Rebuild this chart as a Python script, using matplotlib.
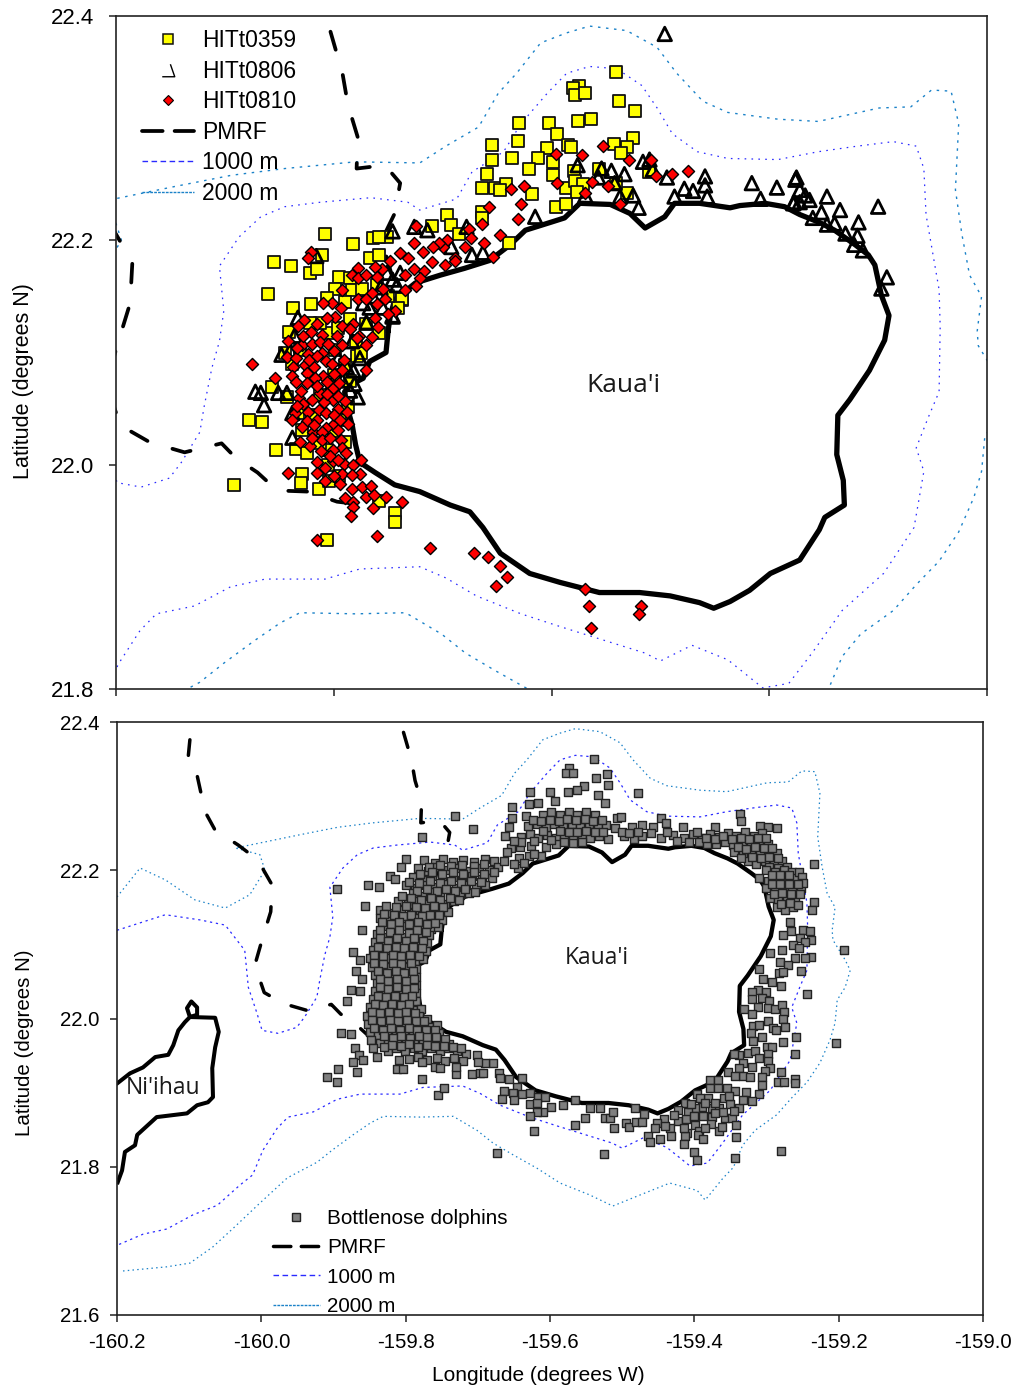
import numpy as np
import matplotlib
matplotlib.use("Agg")
import matplotlib.pyplot as plt
from matplotlib.lines import Line2D
from matplotlib.path import Path
from matplotlib.ticker import FormatStrFormatter

plt.rcParams["font.family"] = ["Liberation Sans", "DejaVu Sans"]
plt.rcParams["axes.unicode_minus"] = False

# --- coastlines (lon, lat) ---
kauai = [(-159.750,22.120),(-159.752,22.100),(-159.767,22.092),(-159.773,22.077),(-159.785,22.071),(-159.790,22.065),
 (-159.787,22.049),(-159.783,22.035),(-159.780,22.018),(-159.776,22.002),(-159.762,21.993),(-159.744,21.982),
 (-159.721,21.976),(-159.693,21.964),(-159.675,21.958),(-159.663,21.944),(-159.647,21.921),(-159.620,21.903),
 (-159.592,21.895),(-159.556,21.886),(-159.519,21.886),(-159.491,21.883),(-159.464,21.877),(-159.451,21.872),
 (-159.436,21.878),(-159.418,21.888),(-159.399,21.903),(-159.372,21.915),(-159.354,21.942),(-159.349,21.953),
 (-159.331,21.964),(-159.332,21.986),(-159.338,22.009),(-159.337,22.044),(-159.326,22.058),(-159.308,22.084),
 (-159.294,22.111),(-159.290,22.133),(-159.297,22.151),(-159.303,22.178),(-159.309,22.187),(-159.321,22.196),
 (-159.340,22.209),(-159.354,22.216),(-159.372,22.223),(-159.386,22.230),(-159.404,22.233),(-159.427,22.231),
 (-159.436,22.229),(-159.464,22.233),(-159.487,22.233),(-159.496,22.221),(-159.514,22.211),(-159.528,22.224),
 (-159.546,22.232),(-159.574,22.233),(-159.588,22.220),(-159.601,22.216),(-159.624,22.209),(-159.638,22.196),
 (-159.657,22.182),(-159.680,22.175),(-159.702,22.169),(-159.725,22.162),(-159.744,22.147),(-159.748,22.133),
 (-159.750,22.120)]
niihau = [(-160.199,21.913),(-160.182,21.926),(-160.164,21.934),(-160.147,21.948),(-160.129,21.951),(-160.122,21.964),
 (-160.115,21.984),(-160.106,21.995),(-160.099,22.002),(-160.103,22.014),(-160.097,22.023),(-160.089,22.015),
 (-160.089,22.005),(-160.099,22.002),(-160.064,22.001),(-160.059,21.982),(-160.064,21.961),(-160.068,21.933),
 (-160.067,21.894),(-160.074,21.887),(-160.089,21.883),(-160.103,21.872),(-160.145,21.867),(-160.172,21.843),
 (-160.175,21.829),(-160.189,21.820),(-160.193,21.795),(-160.199,21.779)]

# --- PMRF boundary ---
pmrf_west = [(-160.099,22.376),(-160.102,22.346),(-160.089,22.328),(-160.078,22.279),(-160.064,22.254),(-160.032,22.234),
 (-160.005,22.214),(-159.985,22.180),(-159.987,22.144),(-159.999,22.106),(-160.009,22.072),(-159.996,22.035),
 (-159.969,22.020),(-159.937,22.011),(-159.903,22.019),(-159.890,22.006),(-159.870,21.993),(-159.852,21.977),
 (-159.824,21.976),(-159.797,21.967),(-159.771,21.964)]
pmrf_north = [(-159.803,22.386),(-159.792,22.349),(-159.787,22.321),(-159.778,22.292),(-159.779,22.264),(-159.753,22.267),
 (-159.739,22.251),(-159.744,22.224),(-159.756,22.200),(-159.747,22.170)]

# --- depth contours ---
depth_1000 = [(-160.200,22.119),(-160.133,22.140),(-160.085,22.133),(-160.050,22.126),(-160.023,22.092),(-160.018,22.042),
 (-160.006,22.007),(-159.999,21.984),(-159.977,21.980),(-159.951,21.988),(-159.940,22.002),(-159.923,22.029),
 (-159.919,22.052),(-159.912,22.086),(-159.905,22.110),(-159.901,22.137),(-159.905,22.177),(-159.887,22.203),
 (-159.867,22.221),(-159.845,22.230),(-159.812,22.234),(-159.766,22.238),(-159.732,22.234),(-159.721,22.227),
 (-159.687,22.237),(-159.673,22.261),(-159.644,22.279),(-159.628,22.304),(-159.604,22.331),(-159.586,22.349),
 (-159.565,22.355),(-159.540,22.353),(-159.517,22.338),(-159.503,22.318),(-159.489,22.295),(-159.466,22.279),
 (-159.438,22.273),(-159.392,22.272),(-159.355,22.279),(-159.319,22.284),(-159.286,22.288),(-159.265,22.284),
 (-159.258,22.264),(-159.256,22.223),(-159.244,22.156),(-159.243,22.123),(-159.244,22.065),(-159.254,22.042),
 (-159.265,22.015),(-159.258,21.994),(-159.267,21.944),(-159.295,21.903),(-159.333,21.870),(-159.360,21.833),
 (-159.382,21.805),(-159.406,21.801),(-159.438,21.826),(-159.471,21.839),(-159.500,21.825),(-159.514,21.832),
 (-159.590,21.855),(-159.628,21.867),(-159.669,21.883),(-159.697,21.899),(-159.721,21.909),(-159.776,21.907),
 (-159.808,21.898),(-159.863,21.898),(-159.895,21.891),(-159.928,21.874),(-159.963,21.867),(-159.978,21.852),
 (-159.998,21.822),(-160.012,21.789),(-160.030,21.775),(-160.061,21.748),(-160.095,21.735),(-160.131,21.716),
 (-160.164,21.709),(-160.200,21.694)]
depth_2000 = [(-160.200,22.164),(-160.168,22.203),(-160.133,22.187),(-160.092,22.160),(-160.050,22.149),(-160.016,22.167),
 (-159.995,22.200),(-160.002,22.221),(-160.036,22.230),(-159.946,22.248),(-159.894,22.258),(-159.845,22.264),
 (-159.780,22.270),(-159.721,22.269),(-159.697,22.284),(-159.667,22.301),(-159.649,22.331),(-159.632,22.349),
 (-159.610,22.376),(-159.586,22.385),(-159.565,22.391),(-159.531,22.387),(-159.503,22.372),(-159.485,22.349),
 (-159.461,22.324),(-159.438,22.314),(-159.392,22.308),(-159.355,22.306),(-159.299,22.318),(-159.270,22.319),
 (-159.251,22.334),(-159.233,22.333),(-159.226,22.304),(-159.229,22.245),(-159.223,22.205),(-159.216,22.169),
 (-159.205,22.150),(-159.209,22.119),(-159.208,22.106),(-159.191,22.079),(-159.184,22.065),(-159.191,22.042),
 (-159.202,22.025),(-159.205,21.994),(-159.212,21.971),(-159.226,21.940),(-159.244,21.914),(-159.265,21.893),
 (-159.286,21.870),(-159.316,21.849),(-159.333,21.829),(-159.346,21.799),(-159.360,21.785),(-159.385,21.755),
 (-159.396,21.768),(-159.434,21.778),(-159.475,21.762),(-159.513,21.747),(-159.545,21.762),(-159.586,21.778),
 (-159.618,21.798),(-159.651,21.816),(-159.679,21.832),(-159.701,21.849),(-159.734,21.868),(-159.780,21.867),
 (-159.831,21.868),(-159.849,21.859),(-159.873,21.843),(-159.901,21.823),(-159.923,21.806),(-159.964,21.785),
 (-160.002,21.751),(-160.039,21.717),(-160.067,21.692),(-160.099,21.670),(-160.131,21.665),(-160.196,21.659)]

# --- false killer whale tags (top panel) ---
hitt0359 = [(-159.541,22.350),(-159.538,22.324),(-159.523,22.315),(-159.576,22.306),(-159.564,22.308),(-159.575,22.338),
 (-159.580,22.336),(-159.578,22.330),(-159.569,22.331),(-159.630,22.305),(-159.602,22.305),(-159.595,22.295),
 (-159.525,22.291),(-159.655,22.285),(-159.631,22.289),(-159.604,22.282),(-159.585,22.285),(-159.582,22.283),
 (-159.543,22.286),(-159.531,22.283),(-159.655,22.272),(-159.636,22.273),(-159.612,22.273),(-159.599,22.270),
 (-159.621,22.264),(-159.659,22.259),(-159.599,22.258),(-159.579,22.262),(-159.664,22.247),(-159.652,22.247),
 (-159.642,22.250),(-159.647,22.245),(-159.618,22.241),(-159.587,22.247),(-159.578,22.253),(-159.571,22.250),
 (-159.577,22.243),(-159.596,22.230),(-159.587,22.232),(-159.664,22.225),(-159.696,22.223),(-159.692,22.214),
 (-159.685,22.206),(-159.639,22.198),(-159.536,22.278),(-159.510,22.261),(-159.531,22.242),(-159.541,22.251),
 (-159.556,22.264),(-159.664,22.220),(-159.808,22.206),(-159.782,22.197),(-159.764,22.202),(-159.751,22.203),
 (-159.758,22.203),(-159.710,22.213),(-159.811,22.187),(-159.855,22.181),(-159.839,22.177),(-159.822,22.171),
 (-159.815,22.174),(-159.860,22.152),(-159.837,22.140),(-159.821,22.143),(-159.767,22.184),(-159.758,22.187),
 (-159.795,22.167),(-159.785,22.166),(-159.783,22.156),(-159.799,22.157),(-159.774,22.157),(-159.841,22.118),
 (-159.790,22.145),(-159.737,22.147),(-159.758,22.117),(-159.806,22.149),(-159.878,22.040),(-159.866,22.038),
 (-159.857,22.069),(-159.853,22.013),(-159.892,21.982),(-159.829,21.992),(-159.830,21.984),(-159.814,21.978),
 (-159.804,21.985),(-159.835,22.014),(-159.825,22.010),(-159.806,21.933),(-159.744,21.957),(-159.744,21.949),
 (-159.779,22.097),(-159.775,22.100),(-159.737,22.148),(-159.741,22.140),(-159.787,22.051),(-159.806,22.013),
 (-159.758,21.968),(-159.829,22.031),(-159.833,22.046),(-159.843,22.060),(-159.813,22.019),(-159.804,22.117),
 (-159.796,22.122),(-159.813,22.126),(-159.822,22.126),(-159.831,22.102),(-159.822,22.084),(-159.813,22.062),
 (-159.794,22.040),(-159.790,22.089),(-159.799,22.102),(-159.845,22.100),(-159.838,22.090),(-159.800,22.080),
 (-159.785,22.075),(-159.820,22.044),(-159.800,22.030),(-159.790,22.020),(-159.805,22.000),(-159.795,21.990),
 (-159.780,22.110),(-159.770,22.125),(-159.750,22.150),(-159.760,22.160),(-159.785,22.130)]
hitt0806 = [(-159.416,22.251),(-159.393,22.247),(-159.408,22.237),(-159.375,22.256),(-159.376,22.254),(-159.372,22.245),
 (-159.367,22.240),(-159.363,22.236),(-159.377,22.234),(-159.372,22.234),(-159.347,22.239),(-159.352,22.225),
 (-159.335,22.227),(-159.360,22.220),(-159.347,22.214),(-159.340,22.215),(-159.318,22.216),(-159.300,22.230),
 (-159.330,22.206),(-159.319,22.204),(-159.322,22.196),(-159.314,22.191),(-159.292,22.167),(-159.297,22.157),
 (-159.378,22.233),(-159.496,22.384),(-159.459,22.257),(-159.459,22.249),(-159.478,22.246),(-159.470,22.244),
 (-159.457,22.239),(-159.487,22.239),(-159.494,22.256),(-159.510,22.272),(-159.516,22.270),(-159.507,22.263),
 (-159.533,22.259),(-159.576,22.267),(-159.554,22.264),(-159.545,22.262),(-159.557,22.256),(-159.542,22.251),
 (-159.525,22.240),(-159.537,22.239),(-159.520,22.229),(-159.569,22.240),(-159.615,22.221),(-159.678,22.212),
 (-159.692,22.194),(-159.673,22.187),(-159.663,22.189),(-159.746,22.208),(-159.726,22.212),(-159.714,22.209),
 (-159.816,22.186),(-159.833,22.131),(-159.767,22.140),(-159.746,22.133),(-159.739,22.171),(-159.746,22.165),
 (-159.872,22.065),(-159.867,22.064),(-159.864,22.053),(-159.848,22.098),(-159.851,22.064),(-159.838,22.046),
 (-159.838,22.024),(-159.770,22.127),(-159.746,22.132),(-159.782,22.084),(-159.792,22.075),(-159.785,22.066),
 (-159.751,22.171),(-159.773,22.144),(-159.836,22.115),(-159.840,22.102),(-159.801,22.073),(-159.788,22.087),
 (-159.843,22.064),(-159.776,22.095),(-159.781,22.072),(-159.796,22.095),(-159.778,22.060),(-159.783,22.110),
 (-159.764,22.150),(-159.757,22.158),(-159.755,22.140),(-159.742,22.160)]
hitt0810 = [(-159.875,22.090),(-159.854,22.077),(-159.842,21.993),(-159.815,21.933),(-159.760,21.936),(-159.712,21.926),
 (-159.737,21.967),(-159.671,21.921),(-159.658,21.918),(-159.647,21.910),(-159.641,21.900),(-159.651,21.892),
 (-159.569,21.889),(-159.566,21.874),(-159.564,21.854),(-159.518,21.874),(-159.520,21.867),(-159.553,22.284),
 (-159.596,22.277),(-159.572,22.276),(-159.529,22.272),(-159.509,22.272),(-159.504,22.257),(-159.489,22.259),
 (-159.475,22.262),(-159.563,22.252),(-159.595,22.251),(-159.548,22.248),(-159.625,22.248),(-159.637,22.246),
 (-159.569,22.242),(-159.628,22.232),(-159.537,22.232),(-159.657,22.230),(-159.631,22.219),(-159.664,22.215),
 (-159.676,22.210),(-159.674,22.202),(-159.662,22.198),(-159.647,22.205),(-159.696,22.200),(-159.700,22.194),
 (-159.679,22.194),(-159.654,22.185),(-159.689,22.184),(-159.724,22.213),(-159.821,22.190),(-159.824,22.184),
 (-159.726,22.198),(-159.703,22.198),(-159.718,22.190),(-159.709,22.194),(-159.710,22.181),(-159.689,22.182),
 (-159.698,22.178),(-159.739,22.189),(-159.732,22.184),(-159.748,22.182),(-159.756,22.174),(-159.762,22.176),
 (-159.778,22.175),(-159.783,22.169),(-159.778,22.166),(-159.770,22.169),(-159.760,22.167),(-159.726,22.174),
 (-159.717,22.173),(-159.721,22.166),(-159.735,22.169),(-159.735,22.156),(-159.724,22.159),(-159.755,22.157),
 (-159.792,22.156),(-159.765,22.153),(-159.753,22.148),(-159.778,22.148),(-159.770,22.148),(-159.760,22.143),
 (-159.744,22.137),(-159.750,22.134),(-159.802,22.144),(-159.810,22.144),(-159.793,22.140),(-159.799,22.132),
 (-159.806,22.131),(-159.827,22.129),(-159.833,22.124),(-159.815,22.125),(-159.792,22.124),(-159.782,22.125),
 (-159.762,22.131),(-159.759,22.123),(-159.785,22.121),(-159.765,22.114),(-159.777,22.115),(-159.779,22.113),
 (-159.770,22.107),(-159.770,22.084),(-159.842,22.110),(-159.829,22.107),(-159.821,22.118),(-159.811,22.116),
 (-159.820,22.108),(-159.813,22.109),(-159.792,22.107),(-159.811,22.100),(-159.800,22.101),(-159.843,22.096),
 (-159.835,22.095),(-159.824,22.099),(-159.791,22.093),(-159.826,22.089),(-159.818,22.087),(-159.807,22.092),
 (-159.837,22.087),(-159.792,22.084),(-159.800,22.081),(-159.810,22.079),(-159.838,22.079),(-159.825,22.082),
 (-159.817,22.077),(-159.825,22.073),(-159.801,22.068),(-159.813,22.064),(-159.820,22.058),(-159.832,22.059),
 (-159.790,22.057),(-159.801,22.058),(-159.809,22.056),(-159.796,22.050),(-159.828,22.054),(-159.814,22.049),
 (-159.824,22.047),(-159.788,22.047),(-159.836,22.046),(-159.838,22.040),(-159.825,22.039),(-159.815,22.040),
 (-159.829,22.034),(-159.787,22.036),(-159.801,22.035),(-159.807,22.033),(-159.819,22.029),(-159.811,22.029),
 (-159.796,22.031),(-159.831,22.020),(-159.822,22.017),(-159.811,22.022),(-159.803,22.024),(-159.793,22.022),
 (-159.792,22.015),(-159.801,22.013),(-159.789,22.010),(-159.815,22.002),(-159.801,22.003),(-159.808,21.997),
 (-159.815,21.993),(-159.791,22.001),(-159.775,22.004),(-159.782,22.000),(-159.792,21.992),(-159.776,21.992),
 (-159.783,21.991),(-159.794,21.983),(-159.783,21.978),(-159.774,21.980),(-159.766,21.981),(-159.790,21.970),
 (-159.782,21.967),(-159.770,21.971),(-159.763,21.973),(-159.752,21.971),(-159.782,21.962),(-159.764,21.961),
 (-159.784,21.954),(-159.835,22.074),(-159.815,22.070),(-159.806,22.074),(-159.795,22.073),(-159.830,22.066),
 (-159.806,22.063),(-159.796,22.061),(-159.823,22.093),(-159.802,22.090),(-159.815,22.097),(-159.834,22.104),
 (-159.805,22.108),(-159.797,22.115),(-159.828,22.115),(-159.834,22.052),(-159.807,22.046),(-159.800,22.044),
 (-159.818,22.035),(-159.794,22.040),(-159.812,22.012),(-159.820,22.024),(-159.803,22.008),(-159.796,22.004),
 (-159.808,21.985),(-159.800,21.990)]

# --- bottlenose dolphins (bottom panel) ---
dolphins_outer = [(-159.895,22.175),(-159.852,22.180),(-159.837,22.177),(-159.800,22.215),(-159.806,22.204),(-159.856,22.152),
 (-159.860,22.119),(-159.873,22.090),(-159.863,22.079),(-159.869,22.064),(-159.860,22.053),(-159.876,22.038),
 (-159.863,22.037),(-159.881,22.023),(-159.890,21.980),(-159.876,21.979),(-159.732,22.273),(-159.707,22.256),
 (-159.777,22.245)]
dolphins_west = [(-159.775,22.214),(-159.760,22.210),(-159.748,22.215),(-159.735,22.211),(-159.720,22.214),(-159.705,22.211),
 (-159.690,22.215),(-159.677,22.212),(-159.783,22.203),(-159.769,22.199),(-159.757,22.204),(-159.742,22.200),
 (-159.728,22.203),(-159.713,22.199),(-159.699,22.203),(-159.685,22.200),(-159.672,22.204),(-159.822,22.192),
 (-159.815,22.188),(-159.790,22.191),(-159.776,22.187),(-159.763,22.192),(-159.750,22.188),(-159.735,22.191),
 (-159.722,22.187),(-159.708,22.192),(-159.694,22.188),(-159.680,22.190),(-159.800,22.180),(-159.787,22.176),
 (-159.772,22.180),(-159.760,22.177),(-159.745,22.181),(-159.730,22.176),(-159.716,22.180),(-159.703,22.177),
 (-159.690,22.180),(-159.790,22.169),(-159.778,22.165),(-159.765,22.170),(-159.752,22.166),(-159.738,22.170),
 (-159.725,22.166),(-159.712,22.169),(-159.810,22.158),(-159.797,22.154),(-159.785,22.158),(-159.772,22.154),
 (-159.758,22.158),(-159.745,22.155),(-159.733,22.158),(-159.835,22.147),(-159.820,22.143),(-159.807,22.147),
 (-159.793,22.143),(-159.780,22.147),(-159.768,22.143),(-159.755,22.147),(-159.742,22.144),(-159.835,22.136),
 (-159.823,22.132),(-159.810,22.136),(-159.800,22.132),(-159.786,22.136),(-159.772,22.132),(-159.760,22.136),
 (-159.750,22.133),(-159.828,22.125),(-159.815,22.121),(-159.803,22.125),(-159.790,22.121),(-159.777,22.125),
 (-159.765,22.121),(-159.755,22.124),(-159.840,22.114),(-159.828,22.110),(-159.815,22.114),(-159.802,22.110),
 (-159.790,22.114),(-159.778,22.110),(-159.768,22.113),(-159.842,22.103),(-159.830,22.099),(-159.818,22.103),
 (-159.806,22.099),(-159.794,22.103),(-159.782,22.099),(-159.770,22.102),(-159.845,22.092),(-159.833,22.088),
 (-159.820,22.092),(-159.808,22.088),(-159.796,22.092),(-159.784,22.088),(-159.772,22.091),(-159.850,22.081),
 (-159.838,22.077),(-159.825,22.081),(-159.812,22.077),(-159.800,22.081),(-159.787,22.077),(-159.776,22.080),
 (-159.846,22.070),(-159.833,22.066),(-159.820,22.070),(-159.808,22.066),(-159.796,22.070),(-159.785,22.067),
 (-159.842,22.059),(-159.830,22.055),(-159.818,22.059),(-159.806,22.055),(-159.795,22.059),(-159.785,22.056),
 (-159.840,22.048),(-159.828,22.044),(-159.816,22.048),(-159.804,22.044),(-159.792,22.048),(-159.785,22.045),
 (-159.842,22.037),(-159.830,22.033),(-159.818,22.037),(-159.806,22.033),(-159.794,22.037),(-159.785,22.034),
 (-159.845,22.026),(-159.833,22.022),(-159.821,22.026),(-159.809,22.022),(-159.797,22.026),(-159.785,22.023),
 (-159.850,22.015),(-159.838,22.011),(-159.826,22.015),(-159.814,22.011),(-159.802,22.015),(-159.790,22.011),
 (-159.779,22.013),(-159.853,22.004),(-159.841,22.000),(-159.829,22.004),(-159.817,22.000),(-159.805,22.004),
 (-159.793,22.000),(-159.781,22.003),(-159.770,21.999),(-159.852,21.993),(-159.840,21.989),(-159.828,21.993),
 (-159.816,21.989),(-159.804,21.993),(-159.792,21.989),(-159.780,21.993),(-159.768,21.989),(-159.757,21.991),
 (-159.850,21.982),(-159.838,21.978),(-159.826,21.982),(-159.814,21.978),(-159.802,21.982),(-159.790,21.978),
 (-159.778,21.982),(-159.766,21.978),(-159.754,21.981),(-159.848,21.971),(-159.836,21.967),(-159.824,21.971),
 (-159.812,21.967),(-159.800,21.971),(-159.788,21.967),(-159.776,21.971),(-159.764,21.967),(-159.752,21.970),
 (-159.740,21.966),(-159.845,21.960),(-159.825,21.956),(-159.813,21.960),(-159.801,21.956),(-159.789,21.960),
 (-159.777,21.956),(-159.765,21.960),(-159.753,21.956),(-159.741,21.960),(-159.729,21.956),(-159.716,21.952),
 (-159.795,21.946),(-159.783,21.948),(-159.771,21.944),(-159.757,21.947),(-159.745,21.943),(-159.733,21.947),
 (-159.721,21.943)]
dolphins_west_inner = [(-159.768,22.205),(-159.752,22.207),(-159.737,22.206),(-159.722,22.207),(-159.706,22.206),(-159.692,22.208),
 (-159.678,22.197),(-159.692,22.195),(-159.706,22.197),(-159.720,22.195),(-159.735,22.197),(-159.750,22.195),
 (-159.764,22.197),(-159.780,22.195),(-159.795,22.184),(-159.781,22.183),(-159.766,22.185),(-159.752,22.183),
 (-159.737,22.185),(-159.723,22.183),(-159.709,22.185),(-159.695,22.184),(-159.784,22.172),(-159.770,22.175),
 (-159.757,22.172),(-159.744,22.175),(-159.731,22.172),(-159.718,22.175),(-159.704,22.171),(-159.805,22.165),
 (-159.792,22.162),(-159.779,22.160),(-159.765,22.163),(-159.752,22.160),(-159.739,22.163),(-159.726,22.160),
 (-159.827,22.152),(-159.814,22.151),(-159.800,22.152),(-159.786,22.150),(-159.773,22.149),(-159.761,22.152),
 (-159.748,22.150),(-159.830,22.141),(-159.816,22.140),(-159.804,22.138),(-159.792,22.139),(-159.778,22.138),
 (-159.766,22.139),(-159.754,22.140),(-159.833,22.130),(-159.821,22.127),(-159.809,22.130),(-159.796,22.127),
 (-159.783,22.130),(-159.771,22.127),(-159.760,22.129),(-159.835,22.120),(-159.822,22.117),(-159.809,22.119),
 (-159.796,22.116),(-159.784,22.119),(-159.772,22.117),(-159.836,22.108),(-159.824,22.105),(-159.812,22.108),
 (-159.800,22.105),(-159.788,22.108),(-159.776,22.105),(-159.839,22.097),(-159.826,22.095),(-159.814,22.097),
 (-159.802,22.095),(-159.790,22.097),(-159.778,22.095),(-159.844,22.086),(-159.831,22.084),(-159.818,22.086),
 (-159.806,22.084),(-159.794,22.086),(-159.781,22.084),(-159.844,22.075),(-159.831,22.073),(-159.818,22.075),
 (-159.806,22.073),(-159.793,22.075),(-159.839,22.064),(-159.826,22.062),(-159.814,22.064),(-159.802,22.062),
 (-159.790,22.064),(-159.836,22.053),(-159.824,22.051),(-159.812,22.053),(-159.800,22.051),(-159.789,22.053),
 (-159.836,22.042),(-159.824,22.040),(-159.812,22.042),(-159.800,22.040),(-159.789,22.041),(-159.838,22.031),
 (-159.827,22.029),(-159.815,22.031),(-159.803,22.029),(-159.791,22.031),(-159.843,22.020),(-159.831,22.018),
 (-159.819,22.020),(-159.807,22.018),(-159.795,22.019),(-159.847,22.009),(-159.835,22.007),(-159.823,22.009),
 (-159.811,22.007),(-159.799,22.009),(-159.787,22.007),(-159.846,21.998),(-159.834,21.996),(-159.822,21.998),
 (-159.810,21.996),(-159.798,21.998),(-159.786,21.996),(-159.774,21.997),(-159.844,21.987),(-159.832,21.985),
 (-159.820,21.987),(-159.808,21.985),(-159.796,21.987),(-159.784,21.985),(-159.772,21.985),(-159.760,21.985),
 (-159.830,21.976),(-159.818,21.974),(-159.806,21.976),(-159.794,21.974),(-159.782,21.976),(-159.770,21.975),
 (-159.758,21.975),(-159.746,21.973),(-159.819,21.964),(-159.807,21.963),(-159.795,21.965),(-159.783,21.962),
 (-159.771,21.964),(-159.759,21.963),(-159.747,21.963),(-159.735,21.962),(-159.723,21.960)]
dolphins_southwest = [(-159.870,21.960),(-159.865,21.951),(-159.859,21.944),(-159.873,21.941),(-159.840,21.948),(-159.830,21.961),
 (-159.809,21.944),(-159.894,21.932),(-159.909,21.921),(-159.895,21.914),(-159.867,21.928),(-159.812,21.932),
 (-159.804,21.932),(-159.777,21.941),(-159.777,21.918),(-159.759,21.934),(-159.752,21.933),(-159.755,21.897),
 (-159.747,21.906),(-159.730,21.925),(-159.730,21.934),(-159.708,21.925),(-159.697,21.926),(-159.693,21.927),
 (-159.679,21.940),(-159.690,21.940),(-159.701,21.951),(-159.700,21.941),(-159.671,21.926),(-159.669,21.920),
 (-159.657,21.918),(-159.639,21.920),(-159.646,21.907),(-159.664,21.902),(-159.651,21.899),(-159.639,21.898),
 (-159.628,21.899),(-159.617,21.894),(-159.607,21.894),(-159.667,21.891),(-159.650,21.890),(-159.628,21.884),
 (-159.618,21.886),(-159.599,21.880),(-159.610,21.874),(-159.618,21.874),(-159.628,21.868),(-159.622,21.848),
 (-159.673,21.818),(-159.565,21.890),(-159.545,21.879),(-159.531,21.879),(-159.565,21.856),(-159.582,21.883),
 (-159.524,21.866),(-159.552,21.866)]
dolphins_north = [(-159.539,22.350),(-159.574,22.338),(-159.578,22.331),(-159.568,22.331),(-159.521,22.330),(-159.536,22.324),
 (-159.520,22.315),(-159.553,22.314),(-159.563,22.308),(-159.575,22.306),(-159.600,22.306),(-159.628,22.306),
 (-159.534,22.301),(-159.524,22.291),(-159.593,22.293),(-159.629,22.289),(-159.617,22.291),(-159.653,22.285),
 (-159.653,22.270),(-159.633,22.273),(-159.657,22.258),(-159.662,22.246),(-159.654,22.230),(-159.642,22.231),
 (-159.643,22.216),(-159.629,22.219),(-159.613,22.219),(-159.644,22.203),(-159.626,22.233),(-159.640,22.245),
 (-159.628,22.249),(-159.616,22.244),(-159.604,22.248),(-159.592,22.243),(-159.580,22.247),(-159.568,22.243),
 (-159.556,22.248),(-159.544,22.243),(-159.532,22.246),(-159.520,22.242),(-159.630,22.260),(-159.618,22.263),
 (-159.606,22.258),(-159.594,22.262),(-159.582,22.258),(-159.570,22.262),(-159.558,22.258),(-159.546,22.262),
 (-159.534,22.258),(-159.522,22.261),(-159.510,22.257),(-159.610,22.275),(-159.598,22.279),(-159.586,22.274),
 (-159.574,22.278),(-159.562,22.274),(-159.550,22.278),(-159.538,22.274),(-159.605,22.232),(-159.592,22.236),
 (-159.580,22.238),(-159.568,22.237),(-159.556,22.238),(-159.478,22.304),(-159.446,22.270),(-159.439,22.264),
 (-159.337,22.276),(-159.335,22.266),(-159.473,22.261),(-159.487,22.258),(-159.507,22.270),(-159.501,22.272),
 (-159.457,22.258),(-159.416,22.258),(-159.371,22.258),(-159.309,22.260),(-159.298,22.258),(-159.286,22.257),
 (-159.498,22.246),(-159.484,22.242),(-159.472,22.246),(-159.460,22.250),(-159.446,22.244),(-159.430,22.248),
 (-159.414,22.244),(-159.402,22.249),(-159.390,22.244),(-159.378,22.249),(-159.366,22.245),(-159.354,22.250),
 (-159.342,22.246),(-159.330,22.251),(-159.318,22.246),(-159.306,22.250),(-159.394,22.238),(-159.382,22.236),
 (-159.370,22.235),(-159.358,22.238),(-159.346,22.234),(-159.334,22.238),(-159.322,22.235),(-159.310,22.239),
 (-159.298,22.236),(-159.345,22.224),(-159.333,22.222),(-159.321,22.226),(-159.309,22.222),(-159.297,22.226),
 (-159.285,22.223),(-159.326,22.212),(-159.314,22.209),(-159.302,22.213),(-159.290,22.209),(-159.278,22.212),
 (-159.622,22.240),(-159.610,22.253),(-159.598,22.241),(-159.586,22.253),(-159.574,22.252),(-159.562,22.252),
 (-159.550,22.253),(-159.538,22.251),(-159.526,22.252),(-159.624,22.268),(-159.612,22.267),(-159.600,22.268),
 (-159.588,22.267),(-159.576,22.269),(-159.564,22.268),(-159.552,22.269),(-159.540,22.266),(-159.528,22.268),
 (-159.660,22.225),(-159.650,22.208),(-159.664,22.212),(-159.636,22.210),(-159.622,22.222),(-159.640,22.238),
 (-159.650,22.240),(-159.500,22.252),(-159.490,22.250),(-159.478,22.252),(-159.438,22.252),(-159.424,22.240),
 (-159.408,22.238),(-159.396,22.252),(-159.384,22.243),(-159.372,22.242),(-159.360,22.246),(-159.348,22.242),
 (-159.336,22.243),(-159.324,22.242),(-159.312,22.244),(-159.300,22.243),(-159.340,22.231),(-159.328,22.229),
 (-159.316,22.231),(-159.304,22.230),(-159.292,22.230),(-159.336,22.216),(-159.320,22.218),(-159.308,22.216),
 (-159.296,22.218),(-159.284,22.216),(-159.272,22.205),(-159.284,22.203),(-159.296,22.205)]
dolphins_east = [(-159.300,22.200),(-159.288,22.197),(-159.276,22.201),(-159.265,22.197),(-159.310,22.190),(-159.298,22.186),
 (-159.286,22.190),(-159.274,22.186),(-159.262,22.189),(-159.300,22.176),(-159.288,22.173),(-159.276,22.177),
 (-159.264,22.173),(-159.252,22.176),(-159.295,22.162),(-159.284,22.160),(-159.272,22.164),(-159.260,22.160),
 (-159.255,22.198),(-159.251,22.191),(-159.249,22.183),(-159.234,22.208),(-159.234,22.157),(-159.237,22.146),
 (-159.285,22.150),(-159.275,22.147),(-159.263,22.150),(-159.267,22.130),(-159.249,22.119),(-159.240,22.118),
 (-159.266,22.118),(-159.277,22.113),(-159.254,22.109),(-159.238,22.106),(-159.247,22.103),(-159.263,22.099),
 (-159.255,22.095),(-159.279,22.092),(-159.295,22.088),(-159.193,22.092),(-159.238,22.083),(-159.247,22.082),
 (-159.260,22.082),(-159.281,22.076),(-159.270,22.072),(-159.252,22.064),(-159.283,22.061),(-159.277,22.063),
 (-159.310,22.067),(-159.305,22.053),(-159.292,22.049),(-159.280,22.044),(-159.244,22.033),(-159.312,22.038),
 (-159.301,22.036),(-159.320,22.036),(-159.320,22.026),(-159.306,22.028),(-159.297,22.023),(-159.312,22.015),
 (-159.298,22.014),(-159.288,22.013),(-159.279,22.018),(-159.276,22.009),(-159.331,22.013),(-159.320,22.006),
 (-159.277,22.000),(-159.298,21.997),(-159.319,21.990),(-159.310,21.991),(-159.274,21.988),(-159.291,21.987),
 (-159.287,21.984),(-159.321,21.980),(-159.306,21.975),(-159.259,21.975),(-159.319,21.970),(-159.277,21.968),
 (-159.204,21.967),(-159.326,21.953),(-159.316,21.956),(-159.299,21.961),(-159.292,21.961),(-159.298,21.952),
 (-159.261,21.952),(-159.310,21.947),(-159.298,21.943),(-159.338,21.951),(-159.345,21.952),(-159.295,21.933),
 (-159.333,21.940),(-159.320,21.934),(-159.338,21.933),(-159.302,21.929),(-159.353,21.928),(-159.280,21.928),
 (-159.333,21.922),(-159.344,21.922),(-159.323,21.921),(-159.306,21.921),(-159.261,21.918),(-159.284,21.915),
 (-159.276,21.914),(-159.261,21.913),(-159.306,21.910),(-159.293,22.194),(-159.281,22.193),(-159.269,22.193),
 (-159.293,22.181),(-159.281,22.181),(-159.269,22.181),(-159.257,22.182),(-159.290,22.168),(-159.278,22.169),
 (-159.266,22.168),(-159.254,22.168),(-159.280,22.155),(-159.268,22.156),(-159.257,22.153)]
dolphins_south = [(-159.378,21.917),(-159.367,21.917),(-159.355,21.906),(-159.344,21.902),(-159.329,21.901),(-159.310,21.898),
 (-159.320,21.889),(-159.396,21.898),(-159.378,21.906),(-159.367,21.906),(-159.359,21.893),(-159.381,21.893),
 (-159.392,21.893),(-159.413,21.886),(-159.351,21.884),(-159.338,21.879),(-159.389,21.880),(-159.376,21.879),
 (-159.366,21.879),(-159.399,21.879),(-159.423,21.876),(-159.409,21.874),(-159.388,21.868),(-159.376,21.867),
 (-159.358,21.866),(-159.348,21.866),(-159.423,21.862),(-159.412,21.864),(-159.442,21.864),(-159.452,21.859),
 (-159.455,21.852),(-159.434,21.852),(-159.399,21.856),(-159.377,21.858),(-159.366,21.848),(-159.362,21.853),
 (-159.342,21.856),(-159.393,21.848),(-159.410,21.845),(-159.432,21.841),(-159.413,21.841),(-159.342,21.840),
 (-159.395,21.843),(-159.388,21.837),(-159.464,21.841),(-159.448,21.837),(-159.461,21.833),(-159.414,21.831),
 (-159.401,21.820),(-159.396,21.809),(-159.344,21.812),(-159.280,21.821),(-159.511,21.852),(-159.525,21.817),
 (-159.482,21.879),(-159.470,21.871),(-159.517,21.866),(-159.513,21.874),(-159.495,21.859),(-159.491,21.853),
 (-159.481,21.860),(-159.473,21.860),(-159.405,21.885),(-159.385,21.886),(-159.372,21.886),(-159.360,21.874),
 (-159.345,21.875),(-159.333,21.890),(-159.400,21.868),(-159.415,21.852),(-159.385,21.852),(-159.372,21.872),
 (-159.428,21.870),(-159.440,21.855),(-159.352,21.895)]

# --- axis ticks ---
top_xticks = [-160.0, -159.8, -159.6, -159.4, -159.2]
top_yticks = [21.8, 22.0, 22.2, 22.4]
bottom_xticks = [-160.2, -160.0, -159.8, -159.6, -159.4, -159.2, -159.0]
bottom_yticks = [21.6, 21.8, 22.0, 22.2, 22.4]

W, H = 1016, 1391
BLUE = "#2a2aff"
TEAL = "#1b82c8"


def draw_line(ax, pts, **kw):
    arr = np.array(pts)
    return ax.plot(arr[:, 0], arr[:, 1], **kw)


def axes_px(fig, left, top, right, bottom):
    return fig.add_axes([left / W, 1 - bottom / H, (right - left) / W, (bottom - top) / H])


def style_axes(ax, xticks, yticks, fs, ypad):
    ax.set_xticks(xticks)
    ax.set_yticks(yticks)
    ax.yaxis.set_major_formatter(FormatStrFormatter("%.1f"))
    ax.xaxis.set_major_formatter(FormatStrFormatter("%.1f"))
    ax.tick_params(direction="out", length=5, width=1.1, labelsize=fs, color="#222222")
    ax.tick_params(axis="y", pad=ypad)
    ax.tick_params(axis="x", pad=8)
    for sp in ax.spines.values():
        sp.set_linewidth(1.2)
        sp.set_color("#222222")


def px_legend(ax, handles, x, y, fs, spacing):
    leg = ax.legend(handles=handles, loc="upper left", bbox_to_anchor=(x / W, 1 - y / H),
                    bbox_transform=ax.figure.transFigure, frameon=False, fontsize=fs,
                    borderaxespad=0, borderpad=0, labelspacing=spacing, handlelength=2.25,
                    handletextpad=0.38, scatterpoints=1)
    leg.set_zorder(10)
    return leg


fig = plt.figure(figsize=(W / 100, H / 100), dpi=100)

# --- top panel ---
ax1 = axes_px(fig, 116, 16, 987, 689)
draw_line(ax1, depth_1000, color=BLUE, lw=0.9, ls=(0, (1.3, 4.2)))
draw_line(ax1, depth_2000, color=TEAL, lw=1.0, ls=(0, (1.8, 4.0)))
draw_line(ax1, pmrf_west, color="black", lw=2.7, ls=(0, (5.0, 7.0)), dash_capstyle="round")
draw_line(ax1, pmrf_north, color="black", lw=2.7, ls=(0, (5.0, 7.0)), dash_capstyle="round")
draw_line(ax1, kauai, color="black", lw=3.8, solid_joinstyle="round")

a = np.array(hitt0359)
ax1.scatter(a[:, 0], a[:, 1], marker="s", s=68, facecolor="#ffff00", edgecolor="#111111", linewidth=1.3, zorder=3)
a = np.array(hitt0806)
ax1.scatter(a[:, 0], a[:, 1], marker="^", s=95, facecolor="none", edgecolor="black", linewidth=2.0, zorder=4)
a = np.array(hitt0810)
ax1.scatter(a[:, 0], a[:, 1], marker="D", s=38, facecolor="#ff0000", edgecolor="black", linewidth=1.0, zorder=5)

ax1.set_xlim(-160.0, -159.2)
ax1.set_ylim(21.8, 22.4)
style_axes(ax1, top_xticks, top_yticks, 16, 10.5)
ax1.tick_params(axis="x", labelbottom=False)
ax1.set_ylabel("Latitude (degrees N)", fontsize=15.5)
ax1.yaxis.set_label_coords(-0.094, 0.458)
ax1.text(-159.534, 22.071, "Kaua'i", family="Open Sans", fontsize=19, ha="center", va="center", color="#1a1a1a")

# the cropped triangle of the original legend key
open_tri = Path([(-1, -1), (1, -1), (0.3, 1)], [Path.MOVETO, Path.LINETO, Path.LINETO])
px_legend(ax1, [
    Line2D([], [], ls="none", marker="s", ms=7.5, mfc="#ffff00", mec="#111111", mew=1.1, label="HITt0359"),
    Line2D([], [], ls="none", marker=open_tri, ms=9, mfc="none", mec="black", mew=1.0, label="HITt0806"),
    Line2D([], [], ls="none", marker="D", ms=5.5, mfc="#ff0000", mec="black", mew=0.8, label="HITt0810"),
    Line2D([], [], color="black", lw=2.7, ls=(0, (5.5, 3.2)), dash_capstyle="round", label="PMRF"),
    Line2D([], [], color=BLUE, lw=1.0, ls=(0, (4, 2.5)), label="1000 m"),
    Line2D([], [], color=TEAL, lw=1.0, ls=(0, (2, 0.8)), label="2000 m"),
], 142, 29, 16.5, 0.33)

# --- bottom panel ---
ax2 = axes_px(fig, 117, 722, 983, 1315)
draw_line(ax2, depth_1000, color=BLUE, lw=0.9, ls=(0, (1.8, 3.0)))
draw_line(ax2, depth_2000, color=TEAL, lw=0.9, ls=(0, (1.2, 2.6)))
draw_line(ax2, pmrf_west, color="black", lw=2.5, ls=(0, (4.5, 7.0)), dash_capstyle="round")
draw_line(ax2, pmrf_north, color="black", lw=2.5, ls=(0, (4.5, 7.0)), dash_capstyle="round")
draw_line(ax2, kauai, color="black", lw=3.1, solid_joinstyle="round")
draw_line(ax2, niihau, color="black", lw=2.9, solid_joinstyle="round")

d = np.array(dolphins_outer + dolphins_west + dolphins_west_inner + dolphins_southwest
             + dolphins_north + dolphins_east + dolphins_south)
ax2.scatter(d[:, 0], d[:, 1], marker="s", s=30, facecolor="#7f7f7f", edgecolor="#222222", linewidth=1.0, zorder=3)

ax2.set_xlim(-160.2, -159.0)
ax2.set_ylim(21.6, 22.4)
style_axes(ax2, bottom_xticks, bottom_yticks, 14.7, 7.5)
ax2.set_ylabel("Latitude (degrees N)", fontsize=14.8)
ax2.yaxis.set_label_coords(-0.096, 0.459)
ax2.set_xlabel("Longitude (degrees W)", fontsize=15)
ax2.xaxis.set_label_coords(0.486, -0.086)
ax2.text(-159.535, 22.082, "Kaua'i", family="Open Sans", fontsize=16.5, ha="center", va="center", color="#1a1a1a")
ax2.text(-160.136, 21.906, "Ni'ihau", family="Open Sans", fontsize=16.5, ha="center", va="center", color="#1a1a1a")

px_legend(ax2, [
    Line2D([], [], ls="none", marker="s", ms=5.8, mfc="#7f7f7f", mec="#222222", mew=1.0, label="Bottlenose dolphins"),
    Line2D([], [], color="black", lw=2.5, ls=(0, (5, 3)), dash_capstyle="round", label="PMRF"),
    Line2D([], [], color=BLUE, lw=1.0, ls=(0, (4, 2.5)), label="1000 m"),
    Line2D([], [], color=TEAL, lw=1.0, ls=(0, (2, 0.8)), label="2000 m"),
], 273, 1209, 14.9, 0.5)

fig.savefig("out.png", dpi=100)
